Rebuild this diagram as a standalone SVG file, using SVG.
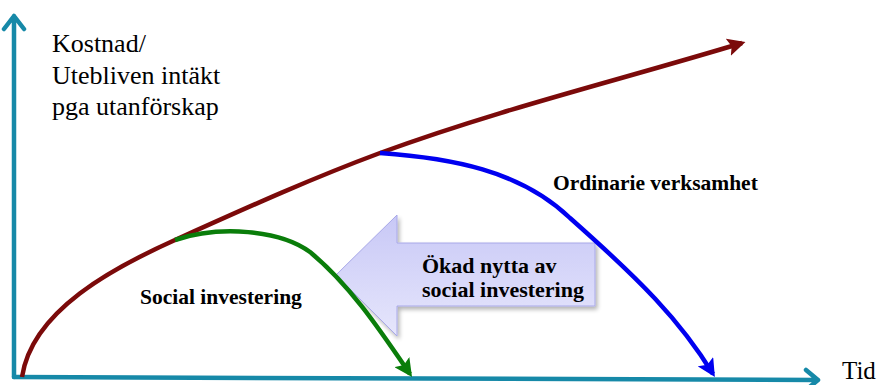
<svg xmlns="http://www.w3.org/2000/svg" width="884" height="385" viewBox="0 0 884 385">
<defs>
<style>
.axis{fill:none;stroke:#1689a8;stroke-width:4.5;stroke-linecap:round;stroke-linejoin:round}
.crv{fill:none;stroke-width:4.5}
.serif{font-family:'Liberation Serif','Times New Roman',Tinos,'Noto Serif','DejaVu Serif',serif;fill:#000}
</style>
<marker id="mr" viewBox="0 0 10 10" refX="8" refY="5" markerWidth="4" markerHeight="4" orient="auto" markerUnits="strokeWidth"><path d="M0,0 L10,5 L0,10 L2,5 z" fill="#7b0a0a"/></marker>
<marker id="mb" viewBox="0 0 10 10" refX="8" refY="5" markerWidth="4" markerHeight="4" orient="auto" markerUnits="strokeWidth"><path d="M0,0 L10,5 L0,10 L2,5 z" fill="#0000f0"/></marker>
<marker id="mg" viewBox="0 0 10 10" refX="8" refY="5" markerWidth="4" markerHeight="4" orient="auto" markerUnits="strokeWidth"><path d="M0,0 L10,5 L0,10 L2,5 z" fill="#0a7d0a"/></marker>
<linearGradient id="ag" x1="0" y1="0" x2="0" y2="1"><stop offset="0" stop-color="#c8c8f6"/><stop offset="1" stop-color="#e6e6fc"/></linearGradient>
<filter id="sh" x="-10%" y="-10%" width="130%" height="130%"><feGaussianBlur in="SourceAlpha" stdDeviation="2"/><feOffset dx="2" dy="3"/><feComponentTransfer><feFuncA type="linear" slope="0.3"/></feComponentTransfer><feMerge><feMergeNode/><feMergeNode in="SourceGraphic"/></feMerge></filter>
</defs>
<g id="axes">
<path class="axis" d="M14,377 L14,16 M4,29 L14,16 L24,29"/>
<path class="axis" d="M14,377 L818,380 M806,370 L818,380 L806,390"/>
</g>
<g id="labels" class="serif" font-size="26">
<text x="52" y="52">Kostnad/</text>
<text x="52" y="84">Utebliven intäkt</text>
<text x="52" y="115">pga utanförskap</text>
<text x="842" y="379" font-size="25">Tid</text>
</g>
<g id="big-arrow">
<path filter="url(#sh)" d="M336,275 L397,215 L397,243 L595,243 L595,306 L397,306 L397,336 Z" fill="url(#ag)" stroke="#a8a8e8" stroke-width="1"/>
<text class="serif" font-weight="bold" font-size="22" x="422" y="273">Ökad nytta av</text>
<text class="serif" font-weight="bold" font-size="22" x="422" y="297">social investering</text>
</g>
<g id="connectors">
<path class="crv" stroke="#7b0a0a" d="M22,377 C32,310 115,267 175,240 C245,208.5 310,179 380,153 C500,109 620,80 742,43" marker-end="url(#mr)"/>
<path class="crv" stroke="#0000f0" d="M380,153 C450,158 520,170 570,218 C640,280 680,320 713,374" marker-end="url(#mb)"/>
<path class="crv" stroke="#0a7d0a" d="M175,240 C220,225 280,230 310,252 C350,285 380,330 410,374" marker-end="url(#mg)"/>
</g>
<g id="curve-labels" class="serif" font-weight="bold" font-size="21.5">
<text x="553" y="190">Ordinarie verksamhet</text>
<text x="140" y="304">Social investering</text>
</g>
</svg>
